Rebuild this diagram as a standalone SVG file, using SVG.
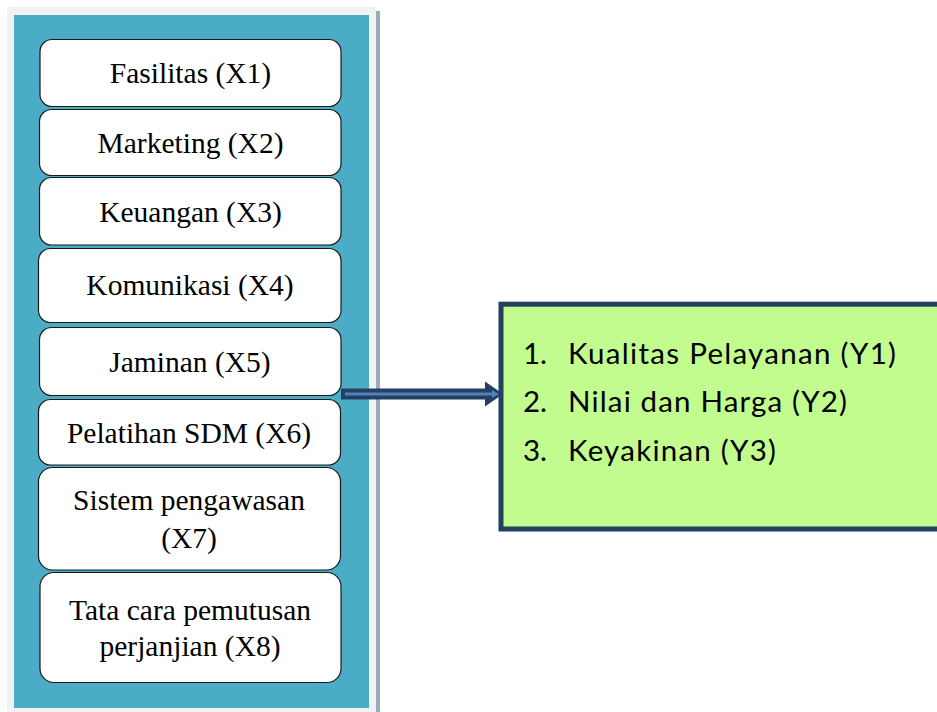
<svg xmlns="http://www.w3.org/2000/svg" width="937" height="712" viewBox="0 0 937 712">
<style>
.box{fill:#ffffff;stroke:#1a1a1a;stroke-width:1.2}
.lbl{font-family:"Liberation Serif","Times New Roman",serif;font-size:29.5px;fill:#000;text-anchor:middle}
.yl{font-family:Lato,"Open Sans",sans-serif;font-size:29.5px;fill:#000}
</style>
<rect width="937" height="712" fill="#ffffff"/>
<g id="panel">
<rect x="376" y="11" width="4" height="701" fill="#95aebb"/>
<rect x="7" y="7" width="369" height="705" fill="#f2f2f2"/>
<rect x="14" y="15" width="355" height="693" fill="#4bacc6"/>
</g>
<g id="connectors">
<rect x="341" y="388.5" width="146" height="11" fill="#243f60"/>
<polygon points="485,381.5 503,394 485,406.5" fill="#243f60"/>
<rect x="345" y="392.5" width="148" height="3" fill="#4f81bd"/>
<polygon points="492,390 499,394 492,398" fill="#4f81bd"/>
</g>
<g id="x1"><rect class="box" x="40" y="39.5" width="301" height="67" rx="12"/><text class="lbl" x="190.5" y="83">Fasilitas (X1)</text></g>
<g id="x2"><rect class="box" x="39.5" y="109.5" width="301.5" height="66" rx="12"/><text class="lbl" x="190.5" y="153">Marketing (X2)</text></g>
<g id="x3"><rect class="box" x="39.5" y="177.5" width="301.5" height="67.5" rx="12"/><text class="lbl" x="190.5" y="221.5">Keuangan (X3)</text></g>
<g id="x4"><rect class="box" x="38.5" y="248.5" width="302.5" height="74" rx="12"/><text class="lbl" x="190" y="295">Komunikasi (X4)</text></g>
<g id="x5"><rect class="box" x="39.5" y="327.5" width="301.5" height="68" rx="12"/><text class="lbl" x="190" y="371.5">Jaminan (X5)</text></g>
<g id="x6"><rect class="box" x="38.5" y="399.5" width="302" height="65.5" rx="12"/><text class="lbl" x="189" y="442.5">Pelatihan SDM (X6)</text></g>
<g id="x7"><rect class="box" x="38.5" y="467.5" width="302" height="102.5" rx="14"/><text class="lbl" x="189" y="510">Sistem pengawasan</text><text class="lbl" x="189" y="548">(X7)</text></g>
<g id="x8"><rect class="box" x="40" y="572.5" width="301" height="110" rx="14"/><text class="lbl" x="190" y="620">Tata cara pemutusan</text><text class="lbl" x="190" y="656">perjanjian (X8)</text></g>
<g id="y">
<rect x="501" y="304.2" width="445" height="224.8" fill="#c2fb8e" stroke="#243f60" stroke-width="5"/>
<text class="yl" x="523" y="364">1.</text><text class="yl" x="568" y="364" textLength="328" lengthAdjust="spacing">Kualitas Pelayanan (Y1)</text>
<text class="yl" x="523" y="412">2.</text><text class="yl" x="568" y="412" textLength="279" lengthAdjust="spacing">Nilai dan Harga (Y2)</text>
<text class="yl" x="523" y="461">3.</text><text class="yl" x="568" y="461" textLength="208" lengthAdjust="spacing">Keyakinan (Y3)</text>
</g>
</svg>
